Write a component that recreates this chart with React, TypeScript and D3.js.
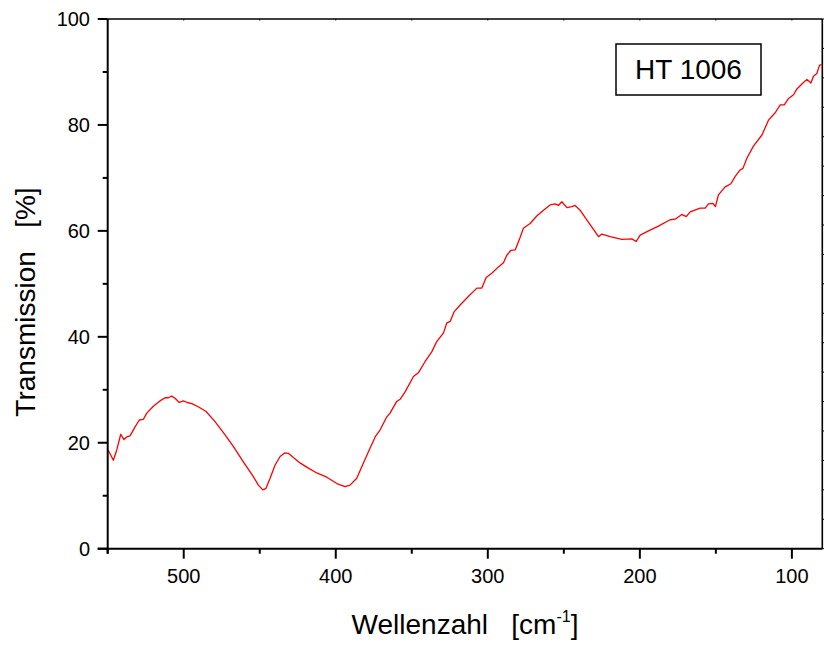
import React from "react";
import * as d3 from "d3";

const wavenumbers: number[] = [
  549.6, 546.3, 544.1, 541.4, 539.3, 537.5, 535.3, 532, 529.2, 526.6, 524.3, 520, 515.6, 512.3, 510.1, 507.9,
  505.7, 502.9, 500.3, 497.6, 494.7, 490.4, 485.3, 479.4, 472.8, 467.4, 460.8, 454.2, 450.9, 448, 445.9,
  443.2, 439.9, 436.6, 433.4, 431.2, 427.9, 423.5, 419.1, 412.5, 405.9, 399.3, 393.9, 390.6, 386.2, 381.8,
  377.4, 374.1, 370.9, 366.4, 364.3, 359.9, 357.7, 354.4, 348.9, 345.7, 341.3, 336.8, 333.6, 329.2, 327,
  324.8, 322.2, 318.2, 312.8, 307.2, 303.9, 301.1, 297.4, 293, 289.7, 287.5, 284.9, 282, 279.2, 276.6, 272.2,
  267.8, 263.4, 259, 255.7, 253.6, 251.3, 248, 244.7, 242.6, 239.3, 234.9, 230.5, 227.2, 225, 219.5, 211.8,
  205.3, 202.4, 199.8, 194.3, 187.8, 180.1, 176.8, 172.4, 169.5, 166.9, 160.3, 157, 154.9, 152, 150.3, 148.3,
  143.9, 140.1, 137.3, 134, 132.2, 129.6, 125.3, 119.7, 115.4, 111, 107.7, 105, 102.2, 98.9, 96.7, 92.4, 90.1,
  87.5, 85.8, 83.6, 81.8, 80.3,
];

const transmission: number[] = [
  18.6, 16.7, 18.6, 21.6, 20.6, 21.1, 21.3, 23.0, 24.3, 24.4, 25.6, 26.9, 27.9, 28.5, 28.5, 28.8,
  28.4, 27.6, 27.9, 27.6, 27.4, 26.8, 25.9, 24.0, 21.5, 19.3, 16.4, 13.6, 12.0, 11.1, 11.4,
  13.3, 15.8, 17.4, 18.1, 18.0, 17.2, 16.2, 15.4, 14.3, 13.5, 12.3, 11.7, 12.0, 13.3, 16.2,
  19.0, 21.1, 22.4, 24.9, 25.6, 27.8, 28.2, 29.6, 32.5, 33.2, 35.3, 37.2, 39.1, 40.7, 42.6,
  42.9, 44.7, 46.0, 47.6, 49.2, 49.2, 51.2, 52.0, 53.2, 54.0, 55.4, 56.3, 56.4, 58.4, 60.5, 61.4,
  62.8, 63.9, 64.9, 65.1, 64.8, 65.5, 64.4, 64.6, 64.8, 63.9, 62.1, 60.3, 58.9, 59.4, 58.9, 58.4,
  58.5, 58.0, 59.2, 60.0, 60.9, 62.1, 62.2, 63.1, 62.7, 63.6, 64.3, 64.3, 65.1, 65.2, 64.6, 66.8,
  68.3, 68.9, 70.3, 71.5, 71.8, 73.7, 76.0, 78.1, 80.9, 82.3, 83.8, 83.8, 85.0, 85.7, 86.8, 88.0, 88.6,
  87.9, 89.2, 89.7, 91.3, 91.4,
];

const xMajorTicks: number[] = [500, 400, 300, 200, 100];
const xMinorTicks: number[] = [550, 450, 350, 250, 150];
const yMajorTicks: number[] = [0, 20, 40, 60, 80, 100];
const yMinorTicks: number[] = [10, 30, 50, 70, 90];

const xDomain: [number, number] = [550, 80];
const yDomain: [number, number] = [0, 100];

const sampleLabel = "HT 1006";
const xTitle = "Wellenzahl";
const yTitle = "Transmission";

export default function App() {
  const left = 107.7;
  const right = 822.3;
  const top = 19;
  const bottom = 548.7;
  const x = d3.scaleLinear().domain(xDomain).range([left, right]);
  const y = d3.scaleLinear().domain(yDomain).range([bottom, top]);

  const pts: [number, number][] = wavenumbers.map((w, i) => [w, transmission[i]]);
  const line = d3
    .line<[number, number]>()
    .x((d) => x(d[0]))
    .y((d) => y(d[1]))
    .curve(d3.curveLinear);

  const rightTicks = d3.range(0, 19).map((i) => top + ((bottom - top) * i) / 18);
  const font = "Arial, 'Liberation Sans', sans-serif";

  return (
    <svg
      width={824}
      height={646}
      style={{ position: "absolute", left: 0, top: 0, background: "#fff" }}
      fontFamily={font}
    >
      <rect x={0} y={0} width={824} height={646} fill="#fff" />
      {/* frame top and right */}
      <line x1={left} y1={top} x2={right} y2={top} stroke="#000" strokeWidth={1.4} />
      <line x1={right} y1={top} x2={right} y2={bottom} stroke="#000" strokeWidth={1.6} />
      {xMajorTicks.concat(xMinorTicks).map((t) => (
        <line key={"tt" + t} x1={x(t)} x2={x(t)} y1={top} y2={top + 1.5} stroke="#000" strokeWidth={1} />
      ))}
      {rightTicks.map((t, i) => (
        <line key={"rt" + i} x1={right} x2={right + 3} y1={t} y2={t} stroke="#000" strokeWidth={1} />
      ))}

      {/* curve */}
      <path d={line(pts) || ""} fill="none" stroke="#ff0000" strokeWidth={1.3} strokeLinejoin="round" />

      {/* bottom axis */}
      <line x1={left - 10} y1={bottom} x2={right} y2={bottom} stroke="#000" strokeWidth={2} />
      {xMajorTicks.map((t) => (
        <g key={"xm" + t}>
          <line x1={x(t)} x2={x(t)} y1={bottom} y2={bottom + 10} stroke="#000" strokeWidth={2} />
          <text x={x(t)} y={583} fontSize={20} textAnchor="middle" fill="#000">
            {t}
          </text>
        </g>
      ))}
      {xMinorTicks.map((t) => (
        <line key={"xn" + t} x1={x(t)} x2={x(t)} y1={bottom} y2={bottom + 5} stroke="#000" strokeWidth={2} />
      ))}

      {/* left axis */}
      <line x1={left} y1={top} x2={left} y2={bottom + 5} stroke="#000" strokeWidth={2} />
      {yMajorTicks.map((t) => (
        <g key={"ym" + t}>
          <line x1={left - 10} x2={left} y1={y(t)} y2={y(t)} stroke="#000" strokeWidth={2} />
          <text x={90} y={y(t) + 7} fontSize={20} textAnchor="end" fill="#000">
            {t}
          </text>
        </g>
      ))}
      {yMinorTicks.map((t) => (
        <line key={"yn" + t} x1={left - 5} x2={left} y1={y(t)} y2={y(t)} stroke="#000" strokeWidth={2} />
      ))}

      {/* legend box */}
      <rect x={616} y={44} width={145} height={51} fill="#fff" stroke="#000" strokeWidth={1.5} />
      <text x={688.5} y={79} fontSize={28} textAnchor="middle" fill="#000">
        {sampleLabel}
      </text>

      {/* axis titles */}
      <text x={465} y={634} fontSize={28} textAnchor="middle" fill="#000" style={{ whiteSpace: "pre" }}>
        {xTitle + "   [cm"}
        <tspan fontSize={16} dy={-12}>
          -1
        </tspan>
        <tspan dy={12}>]</tspan>
      </text>
      <text
        transform="translate(35,302) rotate(-90)"
        fontSize={28}
        textAnchor="middle"
        fill="#000"
        style={{ whiteSpace: "pre" }}
      >
        {yTitle + "   [%]"}
      </text>
    </svg>
  );
}
